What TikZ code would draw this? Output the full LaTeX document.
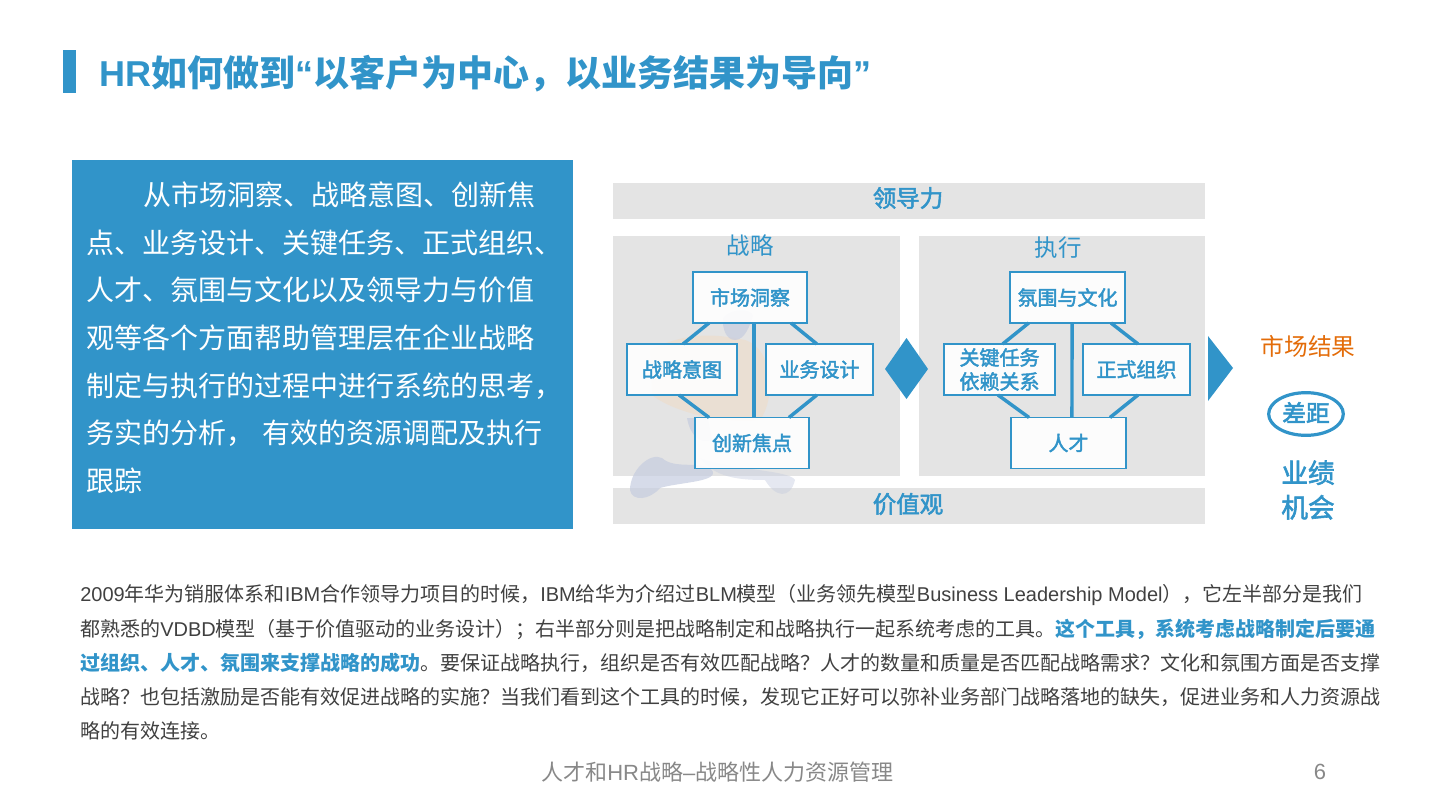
\documentclass[tikz,border=0pt]{standalone}
\usepackage{fontspec}
\setmainfont{Noto Sans CJK SC}
\newfontfamily\latfont{Liberation Sans}
\newfontfamily\medfont[FakeBold=2.2]{Noto Sans CJK SC}
\usetikzlibrary{arrows.meta,positioning,shapes.geometric}
\definecolor{hrblue}{HTML}{3194C9}
\definecolor{panelgray}{HTML}{E4E4E4}
\definecolor{bodygray}{HTML}{404040}
\definecolor{footgray}{HTML}{888888}
\definecolor{resultorange}{HTML}{E36C09}
\definecolor{smudgeblue}{HTML}{C5CCDF}
\definecolor{smudgetan}{HTML}{EFDCC8}
\newcommand{\lat}[1]{{\latfont #1}}
\newcommand{\hlblue}[1]{{\bfseries\color{hrblue}#1}}
\tikzset{
  panel/.style={fill=panelgray, draw=none, inner sep=0pt, outer sep=0pt},
  blockbox/.style={draw=hrblue, fill=white, fill opacity=0.9, text opacity=1, line width=1.1pt, inner sep=0pt, outer sep=0pt, minimum height=38.25pt, text=hrblue, font=\fontsize{15}{18}\selectfont\medfont, align=center},
  linkline/.style={draw=hrblue, line width=2.6pt},
  leadtext/.style={anchor=west, inner sep=0pt, text=white, font=\fontsize{21}{25}\selectfont},
  bodytext/.style={anchor=west, inner sep=0pt, text=bodygray, font=\fontsize{15}{18}\selectfont},
  bartext/.style={text=hrblue, inner sep=0pt, font=\fontsize{17.6}{21}\selectfont\medfont},
  headtext/.style={text=hrblue, inner sep=0pt, font=\fontsize{17.6}{21}\selectfont},
  smudgeb/.style={fill=smudgeblue, draw=none, opacity=0.7},
  smudget/.style={fill=smudgetan, draw=none, opacity=0.6}
}
\begin{document}
\begin{tikzpicture}[x=0.75pt, y=-0.75pt]
\useasboundingbox (0,0) rectangle (1440,810);

% Title
\fill[hrblue] (63,50) rectangle (76,93);
\node[anchor=west, inner sep=0pt, text=hrblue, font=\fontsize{27}{30}\selectfont\bfseries] (title) at (99,73.5) {\lat{HR}如何做到\lat{“}以客户为中心，以业务结果为导向\lat{”}};

% Left text block
\fill[hrblue] (72,160) rectangle (573,529);
\node[leadtext] (lead1) at (143,195) {从市场洞察、战略意图、创新焦};
\node[leadtext] (lead2) at (86,243) {点、业务设计、关键任务、正式组织、};
\node[leadtext] (lead3) at (86,290) {人才、氛围与文化以及领导力与价值};
\node[leadtext] (lead4) at (86,338) {观等各个方面帮助管理层在企业战略};
\node[leadtext] (lead5) at (86,386) {制定与执行的过程中进行系统的思考，};
\node[leadtext] (lead6) at (86,433) {务实的分析，\hspace{0.28em}有效的资源调配及执行};
\node[leadtext] (lead7) at (86,481) {跟踪};

% Gray panels
\node[panel, minimum width=444pt, minimum height=27pt] (leadbar) at (909,201) {};
\node[bartext] (leadlabel) at (908,198) {领导力};
\node[panel, minimum width=444pt, minimum height=27pt] (valuebar) at (909,506) {};
\node[bartext] (valuelabel) at (908,504) {价值观};
\node[panel, minimum width=215.25pt, minimum height=180pt] (stratpanel) at (756.5,356) {};
\node[panel, minimum width=214.5pt, minimum height=180pt] (execpanel) at (1062,356) {};
\node[headtext] (strathead) at (750,246) {战略};
\node[headtext] (exechead) at (1058,248) {执行};

% Faint figure behind the boxes
\fill[smudget] (650,350) .. controls (690,330) and (720,335) .. (745,340) .. controls (775,350) and (775,400) .. (760,420) .. controls (720,425) and (670,410) .. (652,395) -- cycle;
\fill[smudgeb] (723,318) .. controls (730,308) and (752,308) .. (753,316) .. controls (750,325) and (745,340) .. (735,340) .. controls (726,340) and (722,328) .. (723,318) -- cycle;
\fill[smudgeb] (687,418) -- (708,418) -- (712,440) .. controls (700,445) and (690,435) .. (687,418) -- cycle;
\fill[smudgeb] (630,490) .. controls (630,470) and (650,452) .. (662,458) .. controls (675,470) and (700,460) .. (712,470) .. controls (720,482) and (680,482) .. (660,488) .. controls (650,500) and (632,502) .. (630,490) -- cycle;
\fill[smudgeb, opacity=0.45] (700,458) .. controls (730,470) and (790,470) .. (795,480) .. controls (790,500) and (775,497) .. (765,480) .. controls (740,480) and (715,478) .. (700,458) -- cycle;

% Strategy boxes
\node[blockbox, minimum width=85.5pt] (market) at (750,297.5) {市场洞察};
\node[blockbox, minimum width=82.5pt] (intent) at (682,369.5) {战略意图};
\node[blockbox, minimum width=80pt] (design) at (819.5,369.5) {业务设计};
\node[blockbox, minimum width=85.5pt] (focus) at (752,443) {创新焦点};

% Strategy links
\draw[linkline] ([xshift=12pt]market.south west) -- ([xshift=42pt]intent.north west);
\draw[linkline] ([xshift=-12pt]market.south east) -- ([xshift=-42pt]design.north east);
\draw[linkline] ([xshift=39pt]intent.south west) -- ([xshift=10.5pt]focus.north west);
\draw[linkline] ([xshift=-42pt]design.south east) -- ([xshift=-15pt]focus.north east);
\draw[linkline] ([xshift=3pt]market.south) -- ([xshift=1.5pt]focus.north);

% Execution boxes
\node[blockbox, minimum width=86.25pt] (culture) at (1067.5,297.5) {氛围与文化};
\node[blockbox, minimum width=83.25pt] (keytask) at (999.5,369.5) {关键任务\\依赖关系};
\node[blockbox, minimum width=80.25pt] (formal) at (1136.5,369.5) {正式组织};
\node[blockbox, minimum width=86.25pt] (talent) at (1068.5,443) {人才};

% Execution links
\draw[linkline] ([xshift=14pt]culture.south west) -- ([xshift=44pt]keytask.north west);
\draw[linkline] ([xshift=-10.5pt]culture.south east) -- ([xshift=-39pt]formal.north east);
\draw[linkline] ([xshift=40.5pt]keytask.south west) -- ([xshift=13.5pt]talent.north west);
\draw[linkline] ([xshift=-39pt]formal.south east) -- ([xshift=-12pt]talent.north east);
\draw[linkline] ([xshift=3.4pt]culture.south) -- ([xshift=2.6pt]talent.north);

% Diamond and arrow
\fill[hrblue] (906.5,338) -- (928,369) -- (906.5,399) -- (885,369) -- cycle;
\fill[hrblue] (1208,336) -- (1233,368) -- (1208,401) -- cycle;

% Results column
\node[inner sep=0pt, text=resultorange, font=\fontsize{17.8}{21}\selectfont] (result) at (1308,346) {市场结果};
\node[draw=hrblue, line width=2.4pt, ellipse, inner sep=0pt, outer sep=0pt, minimum width=56pt, minimum height=32pt, text=hrblue, font=\fontsize{17.8}{21}\selectfont\medfont] (gap) at (1306,414) {\raisebox{3pt}{差距}};
\node[inner sep=0pt, text=hrblue, align=center, font=\fontsize{20}{26}\selectfont\medfont] (perf) at (1308,490) {业绩\\机会};

% Body text
\node[bodytext] (body1) at (80,595) {\lat{2009}年华为销服体系和\lat{IBM}合作领导力项目的时候，\lat{IBM}给华为介绍过\lat{BLM}模型（业务领先模型\lat{Business Leadership Model}），它左半部分是我们};
\node[bodytext] (body2) at (80,629) {都熟悉的\lat{VDBD}模型（基于价值驱动的业务设计）；右半部分则是把战略制定和战略执行一起系统考虑的工具。\hlblue{这个工具，系统考虑战略制定后要通}};
\node[bodytext] (body3) at (80,663) {\hlblue{过组织、人才、氛围来支撑战略的成功}。要保证战略执行，组织是否有效匹配战略？人才的数量和质量是否匹配战略需求？文化和氛围方面是否支撑};
\node[bodytext] (body4) at (80,697) {战略？也包括激励是否能有效促进战略的实施？当我们看到这个工具的时候，发现它正好可以弥补业务部门战略落地的缺失，促进业务和人力资源战};
\node[bodytext] (body5) at (80,731) {略的有效连接。};

% Footer
\node[anchor=west, inner sep=0pt, text=footgray, font=\fontsize{16.5}{20}\selectfont] (foot) at (541,772) {人才和\lat{HR}战略\lat{–}战略性人力资源管理};
\node[inner sep=0pt, text=footgray, font=\fontsize{16.5}{20}\selectfont\latfont] (page) at (1320,772) {6};
\end{tikzpicture}
\end{document}
